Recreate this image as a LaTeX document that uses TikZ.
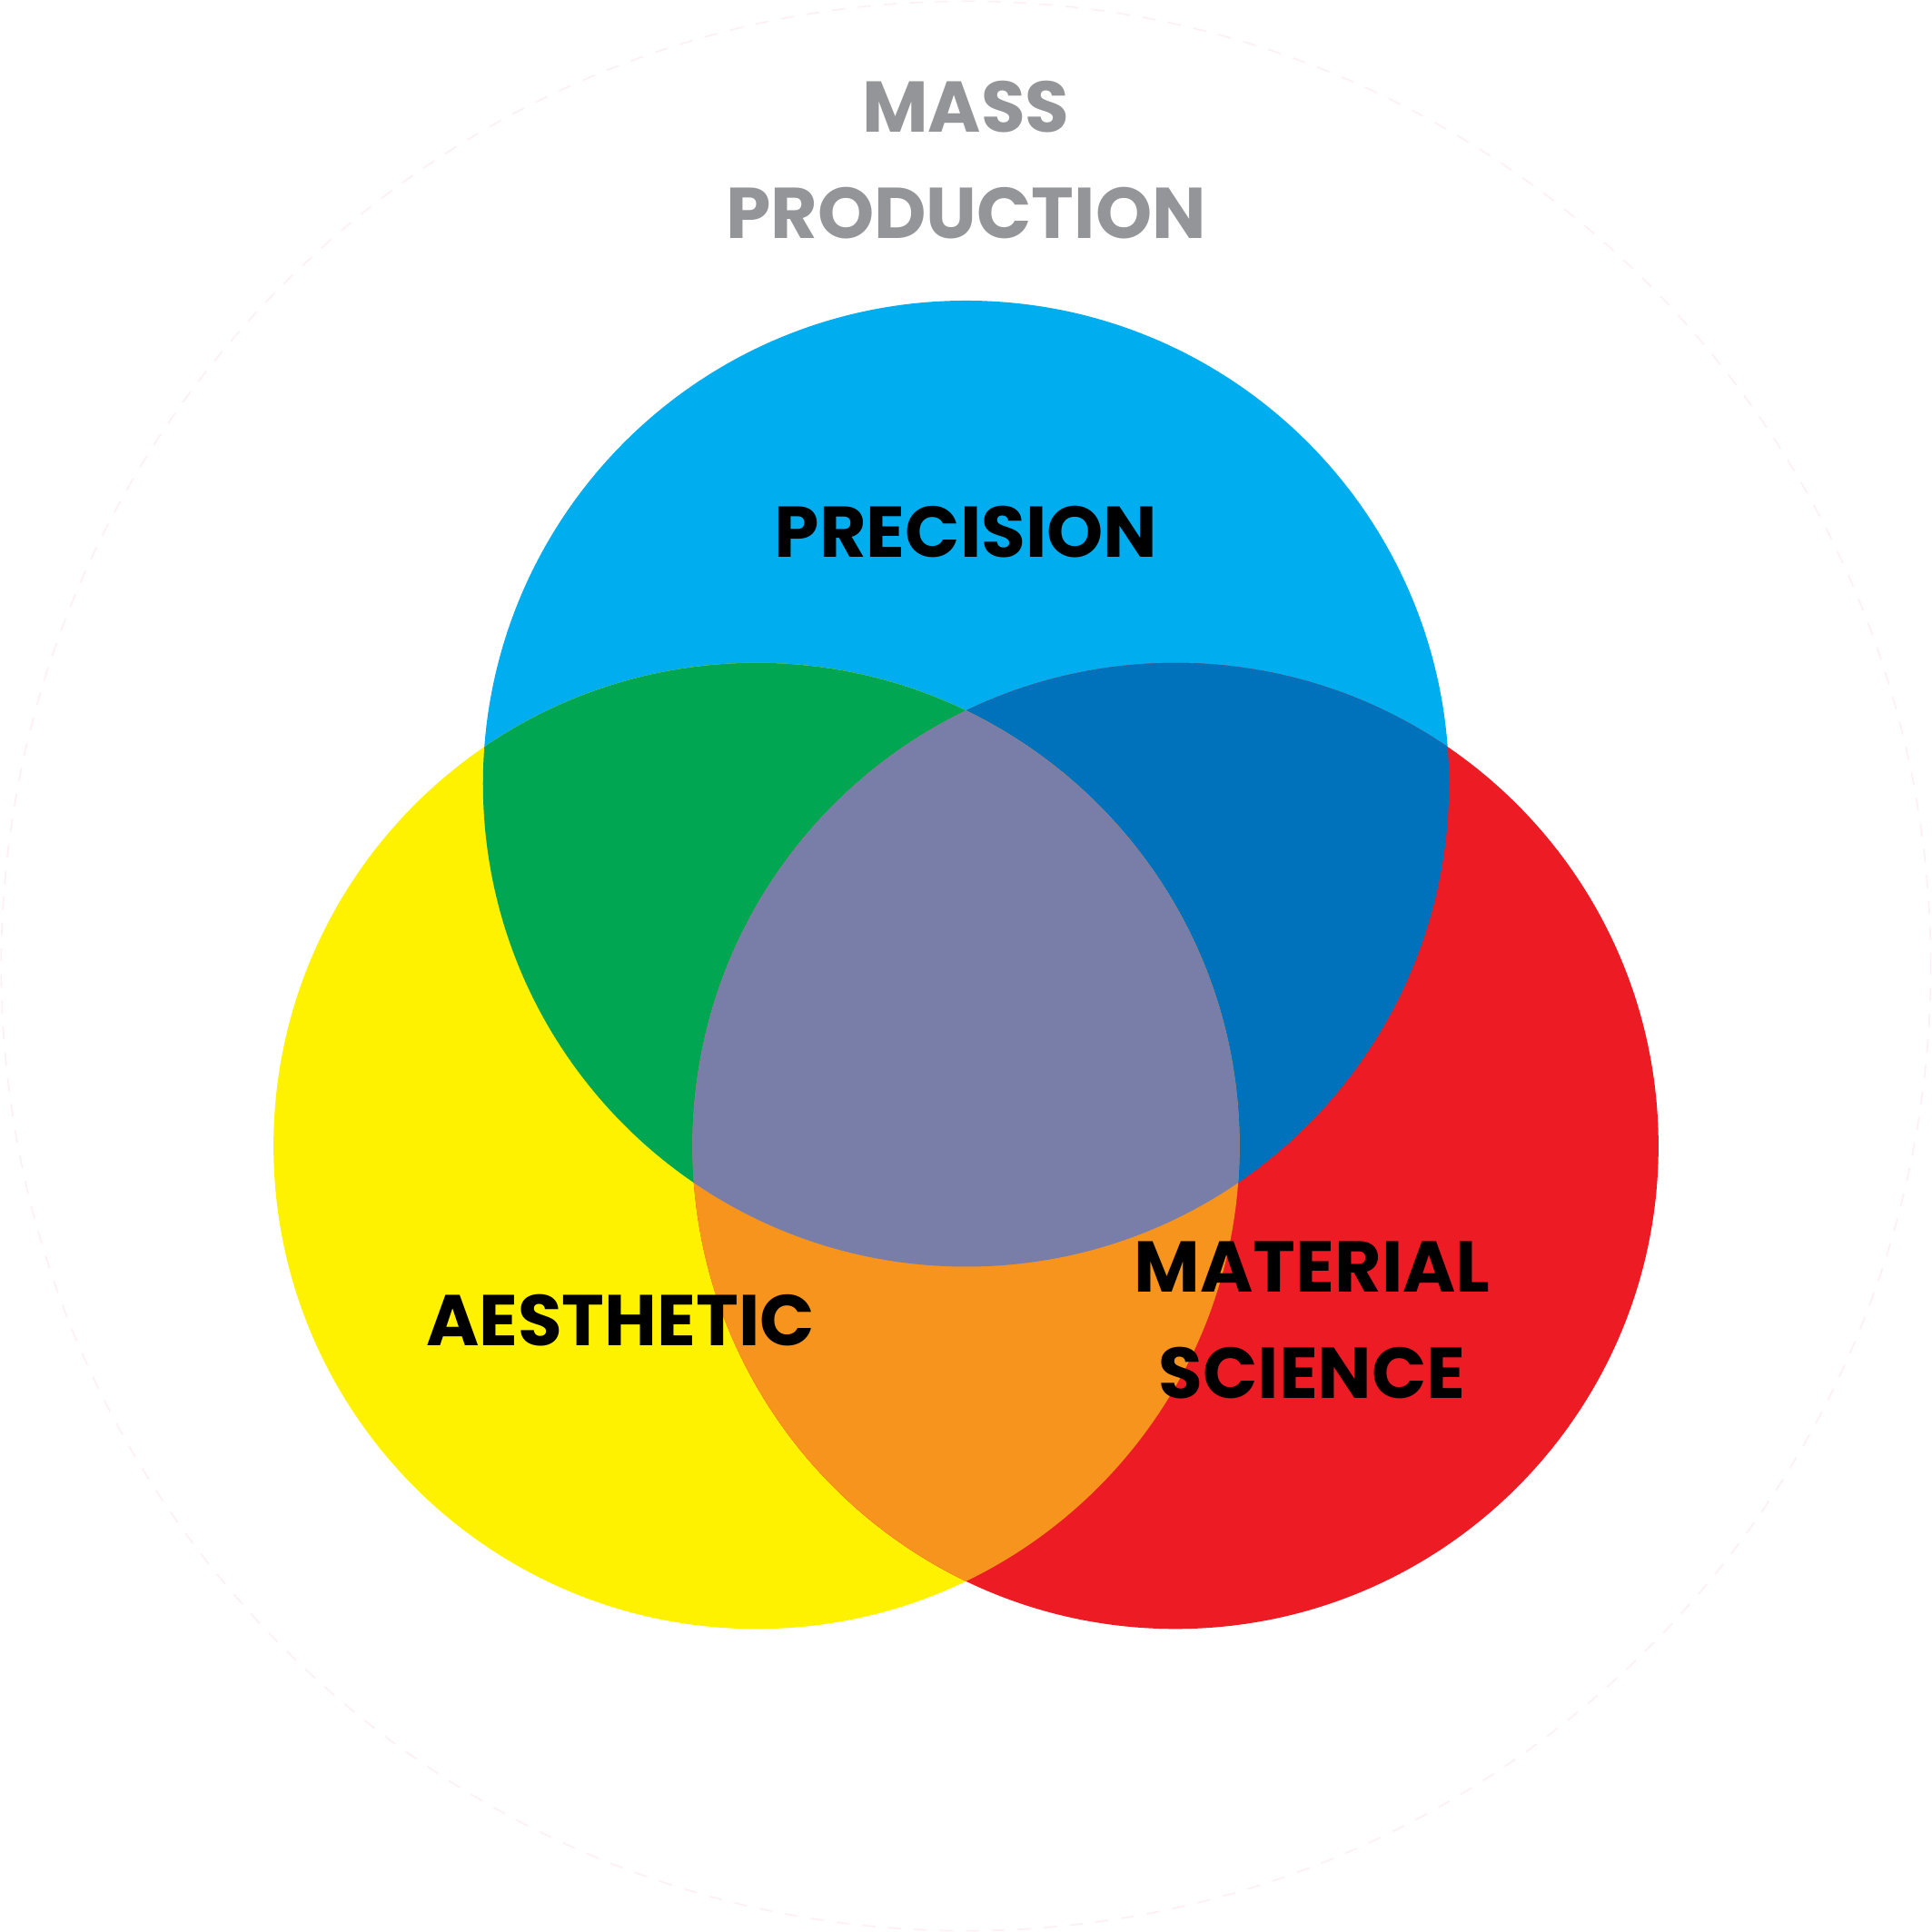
\documentclass[tikz,border=0pt]{standalone}
\usepackage{fontspec}
\usepackage{tikz}
\usetikzlibrary{positioning}
\newfontfamily\vennfont{Poppins}
\definecolor{vnPrec}{HTML}{00AEEF}
\definecolor{vnAes}{HTML}{FFF200}
\definecolor{vnMat}{HTML}{ED1C24}
\definecolor{vnGreen}{HTML}{00A651}
\definecolor{vnDeep}{HTML}{0072BC}
\definecolor{vnOrange}{HTML}{F7941D}
\definecolor{vnCore}{HTML}{787EA8}
\definecolor{vnMass}{HTML}{939598}
\definecolor{vnRing}{HTML}{FDEFF4}
\newcommand\vennrad{3.92}
\tikzset{
  ring/.style={draw=vnRing, line width=0.35pt, dash pattern=on 3pt off 3pt},
  vlabel/.style={font=\vennfont\bfseries\fontsize{16.6}{24.5}\selectfont, align=center, inner sep=0pt, text=black},
  mlabel/.style={vlabel, text=vnMass}
}
\begin{document}
\begin{tikzpicture}
  \useasboundingbox (-7.84,-7.84) rectangle (7.84,7.84);
  \coordinate (mid) at (0,0);
  \coordinate (ctop) at (0,1.48);
  \coordinate (cleft) at (-1.70,-1.46);
  \coordinate (cright) at (1.70,-1.46);
  % outer ring
  \draw[ring] (mid) circle (7.83);
  % the three sets
  \fill[vnPrec] (ctop) circle (\vennrad);
  \fill[vnAes] (cleft) circle (\vennrad);
  \fill[vnMat] (cright) circle (\vennrad);
  % overlaps
  \begin{scope}
    \clip (ctop) circle (\vennrad);
    \fill[vnGreen] (cleft) circle (\vennrad);
    \fill[vnDeep] (cright) circle (\vennrad);
  \end{scope}
  \begin{scope}
    \clip (cleft) circle (\vennrad);
    \fill[vnOrange] (cright) circle (\vennrad);
    \clip (ctop) circle (\vennrad);
    \fill[vnCore] (cright) circle (\vennrad);
  \end{scope}
  % labels
  \node[mlabel] (mass) at (0,6.54) {MASS\\PRODUCTION};
  \node[vlabel] (prec) at (0,3.525) {PRECISION};
  \node[vlabel] (aes) at (-2.805,-2.875) {AESTHETIC};
  \node[vlabel] (mat) at (2.81,-2.875) {MATERIAL\\SCIENCE};
\end{tikzpicture}
\end{document}
